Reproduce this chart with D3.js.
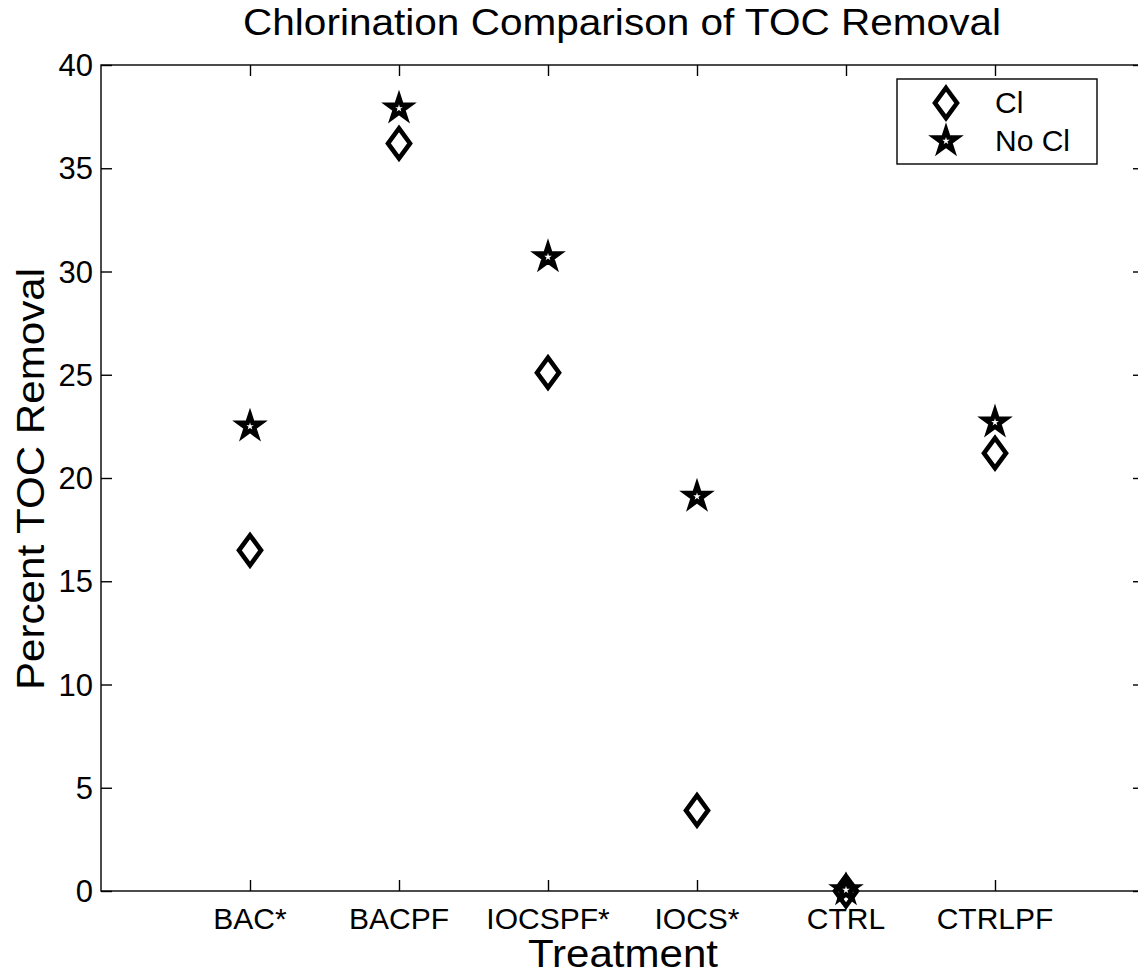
<!DOCTYPE html>
<html>
<head>
<meta charset="utf-8">
<script src="https://cdn.jsdelivr.net/npm/d3@7"></script>
<style>
  html, body { margin: 0; padding: 0; background: #fff; }
  svg { display: block; }
  text { font-family: "Liberation Sans", Arial, Helvetica, sans-serif; fill: #000; }
</style>
</head>
<body>
<svg id="chart" width="1138" height="980"></svg>
<script>
const categories = ["BAC*", "BACPF", "IOCSPF*", "IOCS*", "CTRL", "CTRLPF"];
const clValues   = [16.5, 36.2, 25.1, 3.9, 0.0, 21.2];
const noClValues = [22.5, 37.9, 30.7, 19.1, 0.05, 22.7];
const yTicks = [0, 5, 10, 15, 20, 25, 30, 35, 40];
const seriesNames = ["Cl", "No Cl"];

const svg = d3.select("#chart");
const x = d3.scaleLinear().domain([0, categories.length + 1]).range([101, 1144]);
const y = d3.scaleLinear().domain([0, 40]).range([891, 65]);
const xTickVals = categories.map((c, i) => i + 1);
const tickLen = 11;

// axes box
svg.append("rect")
  .attr("x", x(0)).attr("y", y(40))
  .attr("width", x(7) - x(0)).attr("height", y(0) - y(40))
  .attr("fill", "none").attr("stroke", "#000").attr("stroke-width", 1.4);

// y axis left (inward ticks)
const yLeft = svg.append("g").attr("transform", `translate(${x(0)},0)`)
  .call(d3.axisRight(y).tickValues(yTicks).tickSize(tickLen).tickFormat(""));
yLeft.select(".domain").remove();
yLeft.selectAll("line").attr("stroke-width", 1.4);
svg.append("g").selectAll("text").data(yTicks).join("text")
  .attr("x", 93).attr("y", d => y(d) + 3)
  .attr("text-anchor", "end").attr("dominant-baseline", "middle")
  .attr("font-size", 31).text(d => d);

// y axis right
const yRight = svg.append("g").attr("transform", `translate(${x(7)},0)`)
  .call(d3.axisLeft(y).tickValues(yTicks).tickSize(tickLen).tickFormat(""));
yRight.select(".domain").remove();
yRight.selectAll("line").attr("stroke-width", 1.4);

// x axis bottom
const xBottom = svg.append("g").attr("transform", `translate(0,${y(0)})`)
  .call(d3.axisTop(x).tickValues(xTickVals).tickSize(tickLen).tickFormat(""));
xBottom.select(".domain").remove();
xBottom.selectAll("line").attr("stroke-width", 1.4);
svg.append("g").selectAll("text").data(categories).join("text")
  .attr("x", (d, i) => x(i + 1)).attr("y", 929)
  .attr("text-anchor", "middle").attr("font-size", 30).text(d => d);

// x axis top
const xTop = svg.append("g").attr("transform", `translate(0,${y(40)})`)
  .call(d3.axisBottom(x).tickValues(xTickVals).tickSize(tickLen).tickFormat(""));
xTop.select(".domain").remove();
xTop.selectAll("line").attr("stroke-width", 1.4);

// titles
svg.append("text").attr("x", 622).attr("y", 35).attr("text-anchor", "middle")
  .attr("font-size", 36).attr("textLength", 758).attr("lengthAdjust", "spacingAndGlyphs")
  .text("Chlorination Comparison of TOC Removal");
svg.append("text").attr("x", 623).attr("y", 967).attr("text-anchor", "middle")
  .attr("font-size", 38).attr("textLength", 190).attr("lengthAdjust", "spacingAndGlyphs")
  .text("Treatment");
svg.append("text").attr("transform", "translate(44,479) rotate(-90)")
  .attr("text-anchor", "middle").attr("font-size", 39)
  .attr("textLength", 422).attr("lengthAdjust", "spacingAndGlyphs")
  .text("Percent TOC Removal");

// marker shapes
function diamondPath(a, b) {
  return `M0,${-b}L${a},0L0,${b}L${-a},0Z`;
}
function starPath(R) {
  const r = R * 0.382;
  const pts = [];
  for (let k = 0; k < 10; k++) {
    const rad = k % 2 === 0 ? R : r;
    const ang = -Math.PI / 2 + k * Math.PI / 5;
    pts.push([rad * Math.cos(ang), rad * Math.sin(ang)]);
  }
  return "M" + pts.map(p => p[0].toFixed(2) + "," + p[1].toFixed(2)).join("L") + "Z";
}
const dPath = diamondPath(11, 15);
const sPath = starPath(15.5);
const sInner = starPath(4);

function drawDiamond(g, cx, cy) {
  g.append("path").attr("d", dPath).attr("transform", `translate(${cx},${cy})`)
    .attr("fill", "none").attr("stroke", "#000").attr("stroke-width", 4.6)
    .attr("stroke-linejoin", "miter").attr("stroke-miterlimit", 10);
}
function drawStar(g, cx, cy) {
  const t = `translate(${cx},${cy})`;
  g.append("path").attr("d", sPath).attr("transform", t)
    .attr("fill", "#000").attr("stroke", "#000").attr("stroke-width", 2)
    .attr("stroke-linejoin", "miter").attr("stroke-miterlimit", 10);
  g.append("path").attr("d", sInner).attr("transform", t).attr("fill", "#fff");
}

const marks = svg.append("g");
clValues.forEach((v, i) => drawDiamond(marks, x(i + 1), y(v)));
noClValues.forEach((v, i) => drawStar(marks, x(i + 1), y(v)));

// legend
const lg = svg.append("g");
lg.append("rect").attr("x", 897).attr("y", 79).attr("width", 200).attr("height", 85)
  .attr("fill", "#fff").attr("stroke", "#000").attr("stroke-width", 1.4);
drawDiamond(lg, 946, 103);
drawStar(lg, 946, 141);
lg.append("text").attr("x", 995).attr("y", 113).attr("font-size", 30).text(seriesNames[0]);
lg.append("text").attr("x", 995).attr("y", 151).attr("font-size", 30).text(seriesNames[1]);
</script>
</body>
</html>
